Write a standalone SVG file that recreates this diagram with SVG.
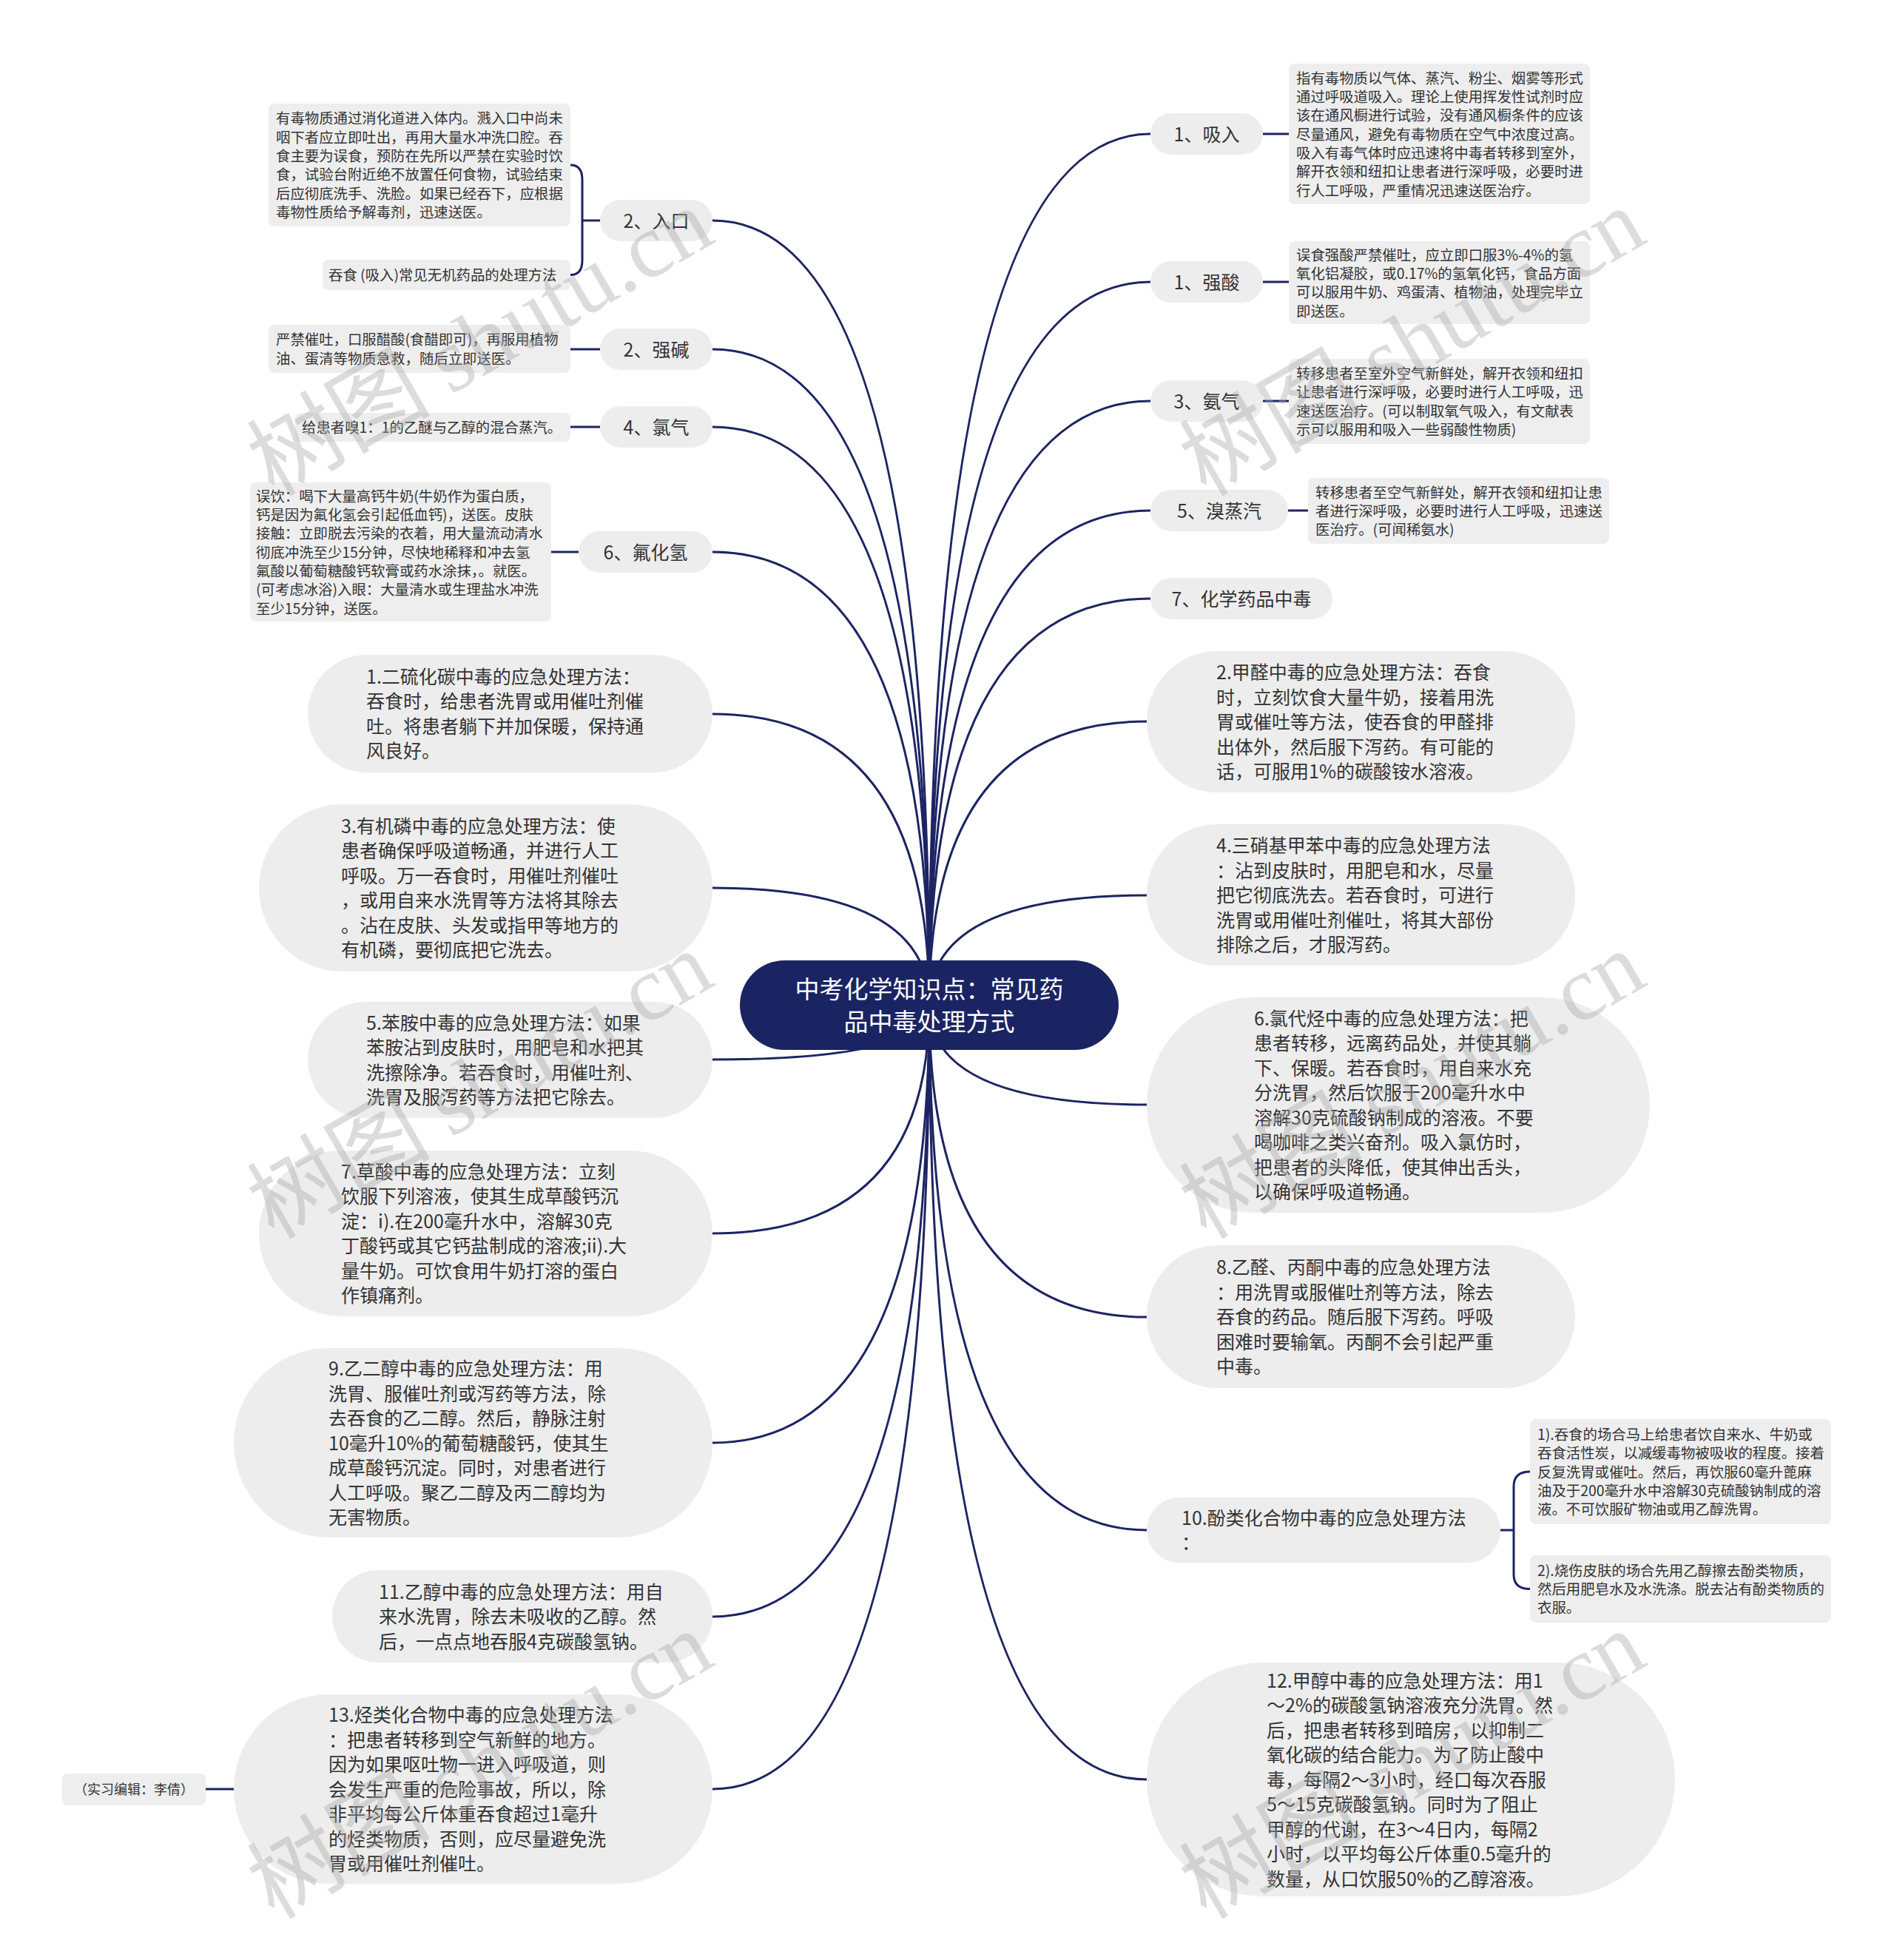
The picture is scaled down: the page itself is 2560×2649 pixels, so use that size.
<svg xmlns="http://www.w3.org/2000/svg" width="2560" height="2649" viewBox="0 0 2560 2649">
<style>
.c{fill:none;stroke:#1d2463;stroke-width:3}
.pill{fill:#ededed}
.box{fill:#eeeeee}
text{font-family:"Noto Sans CJK SC","Noto Sans",sans-serif;fill:#333}
.t1{font-size:25px}
.tp{font-size:25px;text-anchor:middle}
.t2{font-size:19.4px}
.rt{font-size:33px;fill:#ffffff;text-anchor:middle}
.wm{font-size:124px;fill:#a8a8a8;fill-opacity:0.4}
.wm .en{font-family:"Liberation Serif",serif}
</style>
<rect width="2560" height="2649" fill="#ffffff"/>
<g id="connectors">
<path class="c" d="M1256 1358 Q1256 298 963 298"/>
<path class="c" d="M1256 1358 Q1256 472 963 472"/>
<path class="c" d="M1256 1358 Q1256 577 963 577"/>
<path class="c" d="M1256 1358 Q1256 746 963 746"/>
<path class="c" d="M1256 1358 Q1256 965 963 965"/>
<path class="c" d="M1256 1358 Q1256 1200 963 1200"/>
<path class="c" d="M1256 1358 Q1256 1432 963 1432"/>
<path class="c" d="M1256 1358 Q1256 1667 963 1667"/>
<path class="c" d="M1256 1358 Q1256 1950 963 1950"/>
<path class="c" d="M1256 1358 Q1256 2185 963 2185"/>
<path class="c" d="M1256 1358 Q1256 2418 963 2418"/>
<path class="c" d="M1256 1358 Q1256 181 1555 181"/>
<path class="c" d="M1256 1358 Q1256 381 1555 381"/>
<path class="c" d="M1256 1358 Q1256 542 1555 542"/>
<path class="c" d="M1256 1358 Q1256 690 1555 690"/>
<path class="c" d="M1256 1358 Q1256 809 1555 809"/>
<path class="c" d="M1256 1358 Q1256 975 1550 975"/>
<path class="c" d="M1256 1358 Q1256 1210 1550 1210"/>
<path class="c" d="M1256 1358 Q1256 1493 1550 1493"/>
<path class="c" d="M1256 1358 Q1256 1780 1550 1780"/>
<path class="c" d="M1256 1358 Q1256 2068 1550 2068"/>
<path class="c" d="M1256 1358 Q1256 2405 1550 2405"/>
<path class="c" d="M811 298 L787 298 M771 223 Q787 223 787 243 L787 352 Q787 371.5 771 371.5"/>
<path class="c" d="M811 472 L771 472"/>
<path class="c" d="M811 577 L771 577"/>
<path class="c" d="M782 746 L745 746"/>
<path class="c" d="M316 2418 L278 2418"/>
<path class="c" d="M1707 181 L1742 181"/>
<path class="c" d="M1707 381 L1742 381"/>
<path class="c" d="M1707 542 L1742 542"/>
<path class="c" d="M1741 690 L1768 690"/>
<path class="c" d="M2028 2068 L2046 2068 M2068 1989 Q2046 1989 2046 2009 L2046 2128 Q2046 2147.5 2068 2147.5"/>
</g>
<g id="root">
<rect x="1000" y="1298" width="512" height="121" rx="60.5" fill="#1b2462"/>
<text class="rt" x="1256" y="1349">中考化学知识点：常见药</text>
<text class="rt" x="1256" y="1393">品中毒处理方式</text>
</g>
<g id="n-rukou">
<rect class="pill" x="811" y="270" width="152" height="56" rx="28"/>
<text class="tp" x="887" y="307.5">2、入口</text>
</g>
<g id="d-rukou-a">
<rect class="box" x="363" y="140" width="408" height="166" rx="8"/>
<text class="t2" x="373" y="167">有毒物质通过消化道进入体内。溅入口中尚未</text>
<text class="t2" x="373" y="192.5">咽下者应立即吐出，再用大量水冲洗口腔。吞</text>
<text class="t2" x="373" y="218">食主要为误食，预防在先所以严禁在实验时饮</text>
<text class="t2" x="373" y="243">食，试验台附近绝不放置任何食物，试验结束</text>
<text class="t2" x="373" y="268.5">后应彻底洗手、洗脸。如果已经吞下，应根据</text>
<text class="t2" x="373" y="293.5">毒物性质给予解毒剂，迅速送医。</text>
</g>
<g id="d-rukou-b">
<rect class="box" x="436" y="351" width="335" height="41" rx="8"/>
<text class="t2" x="444" y="379">吞食 (吸入)常见无机药品的处理方法</text>
</g>
<g id="n-qiangjian">
<rect class="pill" x="811" y="444" width="152" height="56" rx="28"/>
<text class="tp" x="887" y="481.5">2、强碱</text>
</g>
<g id="d-qiangjian">
<rect class="box" x="363" y="439" width="408" height="65" rx="8"/>
<text class="t2" x="373" y="466">严禁催吐，口服醋酸(食醋即可)，再服用植物</text>
<text class="t2" x="373" y="491.5">油、蛋清等物质急救，随后立即送医。</text>
</g>
<g id="n-luqi">
<rect class="pill" x="811" y="549" width="152" height="56" rx="28"/>
<text class="tp" x="887" y="586.5">4、氯气</text>
</g>
<g id="d-luqi">
<rect class="box" x="399" y="558" width="372" height="39" rx="8"/>
<text class="t2" x="408" y="585">给患者嗅1：1的乙醚与乙醇的混合蒸汽。</text>
</g>
<g id="n-fuhuaqing">
<rect class="pill" x="782" y="718" width="181" height="56" rx="28"/>
<text class="tp" x="872.5" y="755.5">6、氟化氢</text>
</g>
<g id="d-fuhuaqing">
<rect class="box" x="338" y="652" width="407" height="188" rx="8"/>
<text class="t2" x="346" y="677.5">误饮：喝下大量高钙牛奶(牛奶作为蛋白质，</text>
<text class="t2" x="346" y="703">钙是因为氟化氢会引起低血钙)，送医。皮肤</text>
<text class="t2" x="346" y="728">接触：立即脱去污染的衣着，用大量流动清水</text>
<text class="t2" x="346" y="753.5">彻底冲洗至少15分钟，尽快地稀释和冲去氢</text>
<text class="t2" x="346" y="778.5">氟酸以葡萄糖酸钙软膏或药水涂抹，。就医。</text>
<text class="t2" x="346" y="804">(可考虑冰浴)入眼：大量清水或生理盐水冲洗</text>
<text class="t2" x="346" y="829.5">至少15分钟，送医。</text>
</g>
<g id="n1">
<rect class="pill" x="416" y="885" width="547" height="159" rx="79.5"/>
<text class="t1" x="495" y="924">1.二硫化碳中毒的应急处理方法：</text>
<text class="t1" x="495" y="957">吞食时，给患者洗胃或用催吐剂催</text>
<text class="t1" x="495" y="991">吐。将患者躺下并加保暖，保持通</text>
<text class="t1" x="495" y="1024">风良好。</text>
</g>
<g id="n3">
<rect class="pill" x="350" y="1087" width="613" height="226" rx="113"/>
<text class="t1" x="461" y="1126">3.有机磷中毒的应急处理方法：使</text>
<text class="t1" x="461" y="1159">患者确保呼吸道畅通，并进行人工</text>
<text class="t1" x="461" y="1193">呼吸。万一吞食时，用催吐剂催吐</text>
<text class="t1" x="461" y="1226">，或用自来水洗胃等方法将其除去</text>
<text class="t1" x="461" y="1260">。沾在皮肤、头发或指甲等地方的</text>
<text class="t1" x="461" y="1293">有机磷，要彻底把它洗去。</text>
</g>
<g id="n5">
<rect class="pill" x="416" y="1354" width="547" height="157" rx="78.5"/>
<text class="t1" x="495" y="1392">5.苯胺中毒的应急处理方法：如果</text>
<text class="t1" x="495" y="1425">苯胺沾到皮肤时，用肥皂和水把其</text>
<text class="t1" x="495" y="1459">洗擦除净。若吞食时，用催吐剂、</text>
<text class="t1" x="495" y="1492">洗胃及服泻药等方法把它除去。</text>
</g>
<g id="n7">
<rect class="pill" x="350" y="1555" width="613" height="224" rx="112"/>
<text class="t1" x="461" y="1593">7.草酸中毒的应急处理方法：立刻</text>
<text class="t1" x="461" y="1626">饮服下列溶液，使其生成草酸钙沉</text>
<text class="t1" x="461" y="1660">淀：i).在200毫升水中，溶解30克</text>
<text class="t1" x="461" y="1693">丁酸钙或其它钙盐制成的溶液;ii).大</text>
<text class="t1" x="461" y="1727">量牛奶。可饮食用牛奶打溶的蛋白</text>
<text class="t1" x="461" y="1760">作镇痛剂。</text>
</g>
<g id="n9">
<rect class="pill" x="316" y="1822" width="647" height="256" rx="128"/>
<text class="t1" x="444" y="1859">9.乙二醇中毒的应急处理方法：用</text>
<text class="t1" x="444" y="1893">洗胃、服催吐剂或泻药等方法，除</text>
<text class="t1" x="444" y="1926">去吞食的乙二醇。然后，静脉注射</text>
<text class="t1" x="444" y="1960">10毫升10%的葡萄糖酸钙，使其生</text>
<text class="t1" x="444" y="1993">成草酸钙沉淀。同时，对患者进行</text>
<text class="t1" x="444" y="2027">人工呼吸。聚乙二醇及丙二醇均为</text>
<text class="t1" x="444" y="2060">无害物质。</text>
</g>
<g id="n11">
<rect class="pill" x="449" y="2122" width="514" height="125" rx="62.5"/>
<text class="t1" x="512" y="2161">11.乙醇中毒的应急处理方法：用自</text>
<text class="t1" x="512" y="2194">来水洗胃，除去未吸收的乙醇。然</text>
<text class="t1" x="512" y="2228">后，一点点地吞服4克碳酸氢钠。</text>
</g>
<g id="n13">
<rect class="pill" x="316" y="2290" width="647" height="256" rx="128"/>
<text class="t1" x="444" y="2327">13.烃类化合物中毒的应急处理方法</text>
<text class="t1" x="444" y="2361">：把患者转移到空气新鲜的地方。</text>
<text class="t1" x="444" y="2394">因为如果呕吐物一进入呼吸道，则</text>
<text class="t1" x="444" y="2428">会发生严重的危险事故，所以，除</text>
<text class="t1" x="444" y="2461">非平均每公斤体重吞食超过1毫升</text>
<text class="t1" x="444" y="2495">的烃类物质，否则，应尽量避免洗</text>
<text class="t1" x="444" y="2528">胃或用催吐剂催吐。</text>
</g>
<g id="d-editor">
<rect class="box" x="84" y="2397" width="194" height="43" rx="8"/>
<text x="181" y="2425" style="font-size:18px;text-anchor:middle">（实习编辑：李倩）</text>
</g>
<g id="n-xiru">
<rect class="pill" x="1555" y="153" width="152" height="56" rx="28"/>
<text class="tp" x="1631" y="190.5">1、吸入</text>
</g>
<g id="d-xiru">
<rect class="box" x="1742" y="86" width="407" height="190" rx="8"/>
<text class="t2" x="1752" y="112.5">指有毒物质以气体、蒸汽、粉尘、烟雾等形式</text>
<text class="t2" x="1752" y="138">通过呼吸道吸入。理论上使用挥发性试剂时应</text>
<text class="t2" x="1752" y="163">该在通风橱进行试验，没有通风橱条件的应该</text>
<text class="t2" x="1752" y="188.5">尽量通风，避免有毒物质在空气中浓度过高。</text>
<text class="t2" x="1752" y="213.5">吸入有毒气体时应迅速将中毒者转移到室外，</text>
<text class="t2" x="1752" y="239">解开衣领和纽扣让患者进行深呼吸，必要时进</text>
<text class="t2" x="1752" y="264.5">行人工呼吸，严重情况迅速送医治疗。</text>
</g>
<g id="n-qiangsuan">
<rect class="pill" x="1555" y="353" width="152" height="56" rx="28"/>
<text class="tp" x="1631" y="390.5">1、强酸</text>
</g>
<g id="d-qiangsuan">
<rect class="box" x="1742" y="326" width="407" height="112" rx="8"/>
<text class="t2" x="1752" y="351.5">误食强酸严禁催吐，应立即口服3%-4%的氢</text>
<text class="t2" x="1752" y="377">氧化铝凝胶，或0.17%的氢氧化钙，食品方面</text>
<text class="t2" x="1752" y="402">可以服用牛奶、鸡蛋清、植物油，处理完毕立</text>
<text class="t2" x="1752" y="427.5">即送医。</text>
</g>
<g id="n-anqi">
<rect class="pill" x="1555" y="514" width="152" height="56" rx="28"/>
<text class="tp" x="1631" y="551.5">3、氨气</text>
</g>
<g id="d-anqi">
<rect class="box" x="1742" y="485" width="407" height="115" rx="8"/>
<text class="t2" x="1752" y="512">转移患者至室外空气新鲜处，解开衣领和纽扣</text>
<text class="t2" x="1752" y="537">让患者进行深呼吸，必要时进行人工呼吸，迅</text>
<text class="t2" x="1752" y="562.5">速送医治疗。(可以制取氧气吸入，有文献表</text>
<text class="t2" x="1752" y="588">示可以服用和吸入一些弱酸性物质)</text>
</g>
<g id="n-xiuzhengqi">
<rect class="pill" x="1555" y="662" width="186" height="56" rx="28"/>
<text class="tp" x="1648" y="699.5">5、溴蒸汽</text>
</g>
<g id="d-xiuzhengqi">
<rect class="box" x="1768" y="646" width="407" height="89" rx="8"/>
<text class="t2" x="1778" y="672.5">转移患者至空气新鲜处，解开衣领和纽扣让患</text>
<text class="t2" x="1778" y="698">者进行深呼吸，必要时进行人工呼吸，迅速送</text>
<text class="t2" x="1778" y="723">医治疗。(可闻稀氨水)</text>
</g>
<g id="n-huaxue">
<rect class="pill" x="1555" y="781" width="246" height="56" rx="28"/>
<text class="tp" x="1678" y="818.5">7、化学药品中毒</text>
</g>
<g id="n2">
<rect class="pill" x="1550" y="880" width="579" height="191" rx="95.5"/>
<text class="t1" x="1644" y="918">2.甲醛中毒的应急处理方法：吞食</text>
<text class="t1" x="1644" y="952">时，立刻饮食大量牛奶，接着用洗</text>
<text class="t1" x="1644" y="985">胃或催吐等方法，使吞食的甲醛排</text>
<text class="t1" x="1644" y="1019">出体外，然后服下泻药。有可能的</text>
<text class="t1" x="1644" y="1052">话，可服用1%的碳酸铵水溶液。</text>
</g>
<g id="n4">
<rect class="pill" x="1550" y="1114" width="579" height="191" rx="95.5"/>
<text class="t1" x="1644" y="1152">4.三硝基甲苯中毒的应急处理方法</text>
<text class="t1" x="1644" y="1186">：沾到皮肤时，用肥皂和水，尽量</text>
<text class="t1" x="1644" y="1219">把它彻底洗去。若吞食时，可进行</text>
<text class="t1" x="1644" y="1253">洗胃或用催吐剂催吐，将其大部份</text>
<text class="t1" x="1644" y="1286">排除之后，才服泻药。</text>
</g>
<g id="n6">
<rect class="pill" x="1550" y="1348" width="680" height="291" rx="145.5"/>
<text class="t1" x="1695" y="1386">6.氯代烃中毒的应急处理方法：把</text>
<text class="t1" x="1695" y="1419">患者转移，远离药品处，并使其躺</text>
<text class="t1" x="1695" y="1453">下、保暖。若吞食时，用自来水充</text>
<text class="t1" x="1695" y="1486">分洗胃，然后饮服于200毫升水中</text>
<text class="t1" x="1695" y="1520">溶解30克硫酸钠制成的溶液。不要</text>
<text class="t1" x="1695" y="1553">喝咖啡之类兴奋剂。吸入氯仿时，</text>
<text class="t1" x="1695" y="1587">把患者的头降低，使其伸出舌头，</text>
<text class="t1" x="1695" y="1620">以确保呼吸道畅通。</text>
</g>
<g id="n8">
<rect class="pill" x="1550" y="1683" width="579" height="193" rx="96.5"/>
<text class="t1" x="1644" y="1722">8.乙醛、丙酮中毒的应急处理方法</text>
<text class="t1" x="1644" y="1756">：用洗胃或服催吐剂等方法，除去</text>
<text class="t1" x="1644" y="1789">吞食的药品。随后服下泻药。呼吸</text>
<text class="t1" x="1644" y="1823">困难时要输氧。丙酮不会引起严重</text>
<text class="t1" x="1644" y="1856">中毒。</text>
</g>
<g id="n10">
<rect class="pill" x="1550" y="2024" width="478" height="88" rx="44"/>
<text class="t1" x="1597" y="2061">10.酚类化合物中毒的应急处理方法</text>
<text class="t1" x="1597" y="2094">：</text>
</g>
<g id="d-n10-a">
<rect class="box" x="2068" y="1918" width="407" height="142" rx="8"/>
<text class="t2" x="2078" y="1946">1).吞食的场合马上给患者饮自来水、牛奶或</text>
<text class="t2" x="2078" y="1971">吞食活性炭，以减缓毒物被吸收的程度。接着</text>
<text class="t2" x="2078" y="1996.5">反复洗胃或催吐。然后，再饮服60毫升蓖麻</text>
<text class="t2" x="2078" y="2021.5">油及于200毫升水中溶解30克硫酸钠制成的溶</text>
<text class="t2" x="2078" y="2047">液。不可饮服矿物油或用乙醇洗胃。</text>
</g>
<g id="d-n10-b">
<rect class="box" x="2068" y="2102" width="407" height="91" rx="8"/>
<text class="t2" x="2078" y="2129.5">2).烧伤皮肤的场合先用乙醇擦去酚类物质，</text>
<text class="t2" x="2078" y="2155">然后用肥皂水及水洗涤。脱去沾有酚类物质的</text>
<text class="t2" x="2078" y="2180">衣服。</text>
</g>
<g id="n12">
<rect class="pill" x="1550" y="2247" width="714" height="316" rx="158"/>
<text class="t1" x="1712" y="2280.5">12.甲醇中毒的应急处理方法：用1</text>
<text class="t1" x="1712" y="2314">～2%的碳酸氢钠溶液充分洗胃。然</text>
<text class="t1" x="1712" y="2347.5">后，把患者转移到暗房，以抑制二</text>
<text class="t1" x="1712" y="2381">氧化碳的结合能力。为了防止酸中</text>
<text class="t1" x="1712" y="2414.5">毒，每隔2～3小时，经口每次吞服</text>
<text class="t1" x="1712" y="2448">5～15克碳酸氢钠。同时为了阻止</text>
<text class="t1" x="1712" y="2481.5">甲醇的代谢，在3～4日内，每隔2</text>
<text class="t1" x="1712" y="2515">小时，以平均每公斤体重0.5毫升的</text>
<text class="t1" x="1712" y="2548.5">数量，从口饮服50%的乙醇溶液。</text>
</g>
<g id="watermarks">
<text class="wm" transform="translate(370 672) rotate(-30)">树图 <tspan class="en">shutu.cn</tspan></text>
<text class="wm" transform="translate(1630 672) rotate(-30)">树图 <tspan class="en">shutu.cn</tspan></text>
<text class="wm" transform="translate(370 1676) rotate(-30)">树图 <tspan class="en">shutu.cn</tspan></text>
<text class="wm" transform="translate(1630 1676) rotate(-30)">树图 <tspan class="en">shutu.cn</tspan></text>
<text class="wm" transform="translate(370 2595) rotate(-30)">树图 <tspan class="en">shutu.cn</tspan></text>
<text class="wm" transform="translate(1630 2595) rotate(-30)">树图 <tspan class="en">shutu.cn</tspan></text>
</g>
</svg>
